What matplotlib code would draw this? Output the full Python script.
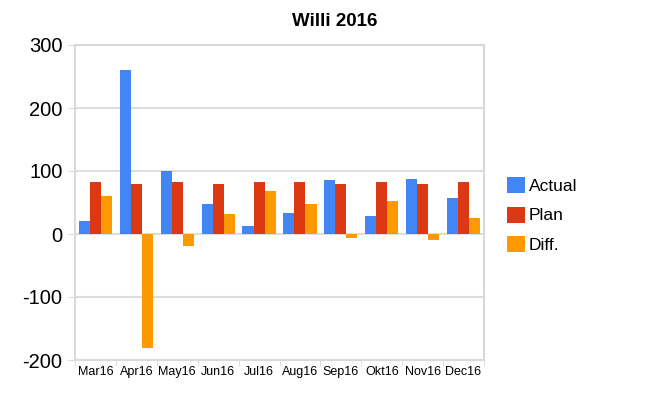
import numpy as np
import matplotlib.pyplot as plt

plt.rcParams['font.family'] = ['Liberation Sans', 'DejaVu Sans']

months = ["Mar16", "Apr16", "May16", "Jun16", "Jul16", "Aug16", "Sep16", "Okt16", "Nov16", "Dec16"]
actual = [20, 260, 100, 47, 12, 34, 85, 28, 87, 57]
plan = [82, 79, 82, 79, 82, 82, 79, 82, 79, 82]
diff = [60, -181, -19, 31, 69, 47, -6, 52, -9, 25]

colors = ["#4285F4", "#DC3912", "#FF9900"]
names = ["Actual", "Plan", "Diff."]

fig = plt.figure(figsize=(6.7, 4.0), dpi=100)
ax = fig.add_axes([75/670, 1 - 360/400, 409/670, 315/400])

x = np.arange(len(months))
w = 0.27
for i, (vals, c, n) in enumerate(zip([actual, plan, diff], colors, names)):
    ax.bar(x + (i - 1) * w, vals, w, color=c, label=n, zorder=3)

ax.set_xlim(-0.5, len(months) - 0.5)
ax.set_ylim(-200, 300)
ax.set_yticks([-200, -100, 0, 100, 200, 300])
ax.set_yticklabels(["-200", "-100", "0", "100", "200", "300"], fontsize=14.5)
ax.set_xticks(x)
ax.set_xticklabels(months, fontsize=9)
ax.set_xticks(np.arange(-0.5, len(months)), minor=True)
ax.tick_params(axis='x', which='major', length=0, pad=4)
ax.tick_params(axis='x', which='minor', length=4, color="#d9d9d9")
ax.tick_params(axis='y', length=5, color="#d9d9d9", pad=4)

ax.grid(axis='y', color="#dddddd", linewidth=1.5, zorder=0)
for s in ax.spines.values():
    s.set_color("#d9d9d9")
    s.set_linewidth(1.5)

fig.text(0.5, 1 - 21/400, "Willi 2016", fontsize=13.5, fontweight='bold',
         ha='center', va='center')

fig.legend(loc='center left', bbox_to_anchor=(507/670, 1 - 215/400), frameon=False,
           fontsize=12.5, handlelength=1.05, handleheight=1.05, handletextpad=0.2,
           labelspacing=0.7, borderpad=0, borderaxespad=0)

fig.savefig("out.png", dpi=100)
